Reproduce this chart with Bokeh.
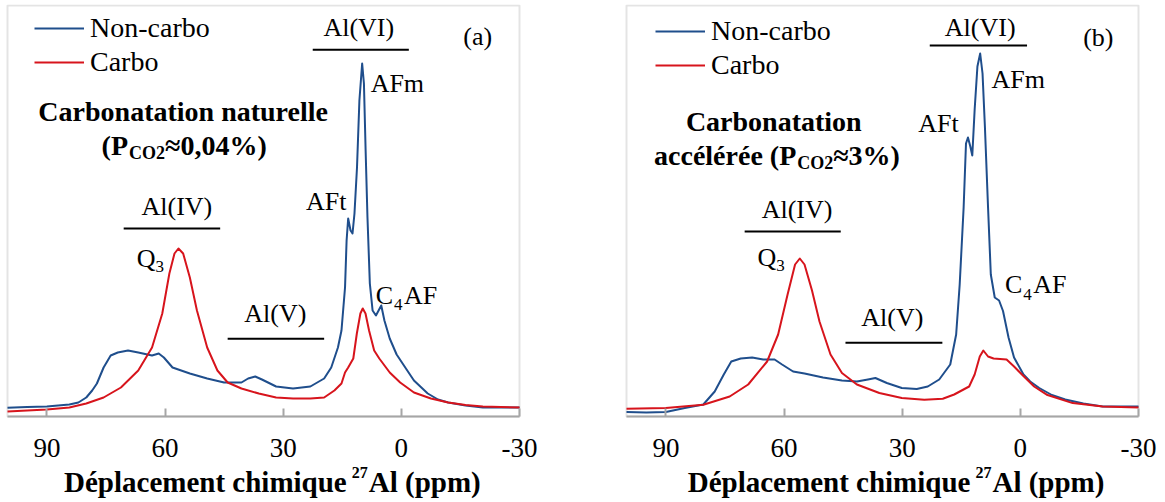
from bokeh.plotting import figure
from bokeh.layouts import row
from bokeh.models import Range1d, FixedTicker, Label, Legend, LegendItem, BoxAnnotation
from bokeh.embed import file_html
from bokeh.resources import INLINE

# ---------------- data ----------------
series_names = ["Non-carbo", "Carbo"]
tick_values = [90, 60, 30, 0, -30]
tick_labels = ["90", "60", "30", "0", "-30"]
x_start, x_end = 100, -30

# panel (a) : natural carbonation
a_non_ppm = [100, 95, 90, 84.3, 82, 80, 78.5, 77.3, 75.6, 73.8, 72, 69.4, 66.8, 63.3, 61.6, 60.3, 58.1, 53.7,
             49.3, 45, 40.6, 38.9, 37.1, 35.4, 31.8, 27.5, 23.1, 19.6, 17.8, 16.1, 15.2, 14.3, 13.9, 13.5,
             12.9, 12.4, 11.9, 11.26, 10.65, 9.95, 9.5, 9.07, 8.6, 8.0, 7.3, 6.45, 5.1, 4.3, 2.95, 1.2,
             -1.5, -3.2, -6.7, -9.3, -11.9, -16.3, -20.7, -30]
a_non_int = [8.7, 9.5, 10, 12, 14, 19, 26, 33, 49, 61, 64, 66, 64, 61, 63, 59, 49, 43,
             38, 34, 34, 38, 40, 37, 30, 28, 30, 38, 49, 69, 86, 129, 176, 198,
             186, 183, 203, 249, 316, 353, 333, 266, 199, 133, 106, 101, 111, 96, 78, 62,
             46, 36, 23, 17, 14, 11, 9, 9]
a_carbo_ppm = [100, 90, 84.3, 80, 75.6, 71.2, 66.8, 63.3, 60.7, 58.9, 57.6, 56.6, 55.4, 53.7, 51.9, 49.3,
               46.7, 44.1, 40.6, 36.2, 31.8, 27.5, 23.1, 19.6, 17, 15.2, 14.3, 13.5, 12.2, 11.3, 10.4, 9.8,
               9.1, 8.2, 6.9, 5.6, 2.95, 0.3, -3.2, -7.5, -11.9, -16.3, -20.7, -30]
a_carbo_int = [5, 7, 9, 13, 19, 29, 46, 69, 103, 143, 163, 168, 163, 139, 106, 69,
               46, 34, 28, 23, 19, 18, 18, 19, 26, 33, 44, 49, 58, 83, 103, 108,
               103, 86, 66, 58, 44, 34, 24, 18, 14, 11.5, 10, 9]

# panel (b) : accelerated carbonation
b_non_ppm = [100, 95, 90, 85.2, 80.5, 77.6, 75.3, 73.4, 71, 68.1, 65.3, 62.4, 60.5, 57.7, 54.8, 50.1, 45.3,
             41.5, 38.7, 36.8, 33.9, 30.1, 26.3, 23.5, 20.6, 17.8, 16.3, 15.4, 14.4, 13.8, 13.3, 12.7, 12.2,
             11.6, 10.9, 10.2, 9.6, 9.0, 8.2, 7.5, 6.5, 5.4, 4.4, 3.0, 1.6, -0.8, -2.5, -4.8, -8, -11.4,
             -16, -20.9, -30]
b_non_int = [4.4, 4, 4.4, 8.4, 12, 25, 42, 55, 58, 59, 57, 57, 52, 45, 43, 39, 36,
             35, 37, 38.5, 33.5, 28.5, 27.5, 30, 37, 52, 82, 132, 209, 273, 279, 270, 261,
             307, 350, 363, 343, 290, 209, 142, 119, 116, 105.5, 79, 59, 42, 35, 28.5, 21.5, 17,
             13, 10, 10]
b_carbo_ppm = [100, 90, 80.5, 73.8, 69.1, 64.3, 61.5, 59.1, 57.2, 56, 54.8, 52.9, 51, 48.2, 45.3, 41.5,
               35.8, 30.1, 24.4, 19.7, 16.8, 13, 11.6, 10.3, 9.4, 8.2, 6.8, 3.5, 1.6, -1.3, -3.5, -6.7,
               -13.3, -20.9, -30]
b_carbo_int = [7.7, 8.4, 11.7, 20, 32, 55, 82, 122, 152, 158, 152, 126, 95, 62, 43.5, 32,
               23.5, 18.4, 16.8, 17.8, 22, 30, 42, 60, 66, 60, 58, 57, 50, 38.5, 30, 21.8,
               13.4, 10, 9]

# ---------------- style / layout ----------------
SERIF = "Liberation Serif"
GRAY = "#a6a6a6"
BLUE = "#1f4e8c"
RED = "#d7141c"
BOX_W = 512                       # width of the boxed plot area in px
PX = BOX_W / (x_start - x_end)    # px per ppm
TOP_VAL = 411                     # top of the boxed plot area (1 unit = 1 px)
Y_MIN, Y_MAX = -86, 412


def add_text(p, x, y, text, size=26, bold=False, align="left", xoff=0):
    p.add_layout(Label(x=x, y=y, x_offset=xoff, text=text, text_font=SERIF,
                       text_font_size=f"{size}px",
                       text_font_style="bold" if bold else "normal",
                       text_align=align, text_baseline="middle", text_color="#000000"))


def make_panel(non_ppm, non_int, carbo_ppm, carbo_int, pad_left, pad_right, legend_loc,
               title_anchor):
    p = figure(frame_width=pad_left + BOX_W + pad_right, frame_height=Y_MAX - Y_MIN,
               min_border_left=0, min_border_right=0, min_border_top=4, min_border_bottom=0,
               x_range=Range1d(x_start + pad_left / PX, x_end - pad_right / PX),
               y_range=Range1d(Y_MIN, Y_MAX),
               y_axis_type=None, toolbar_location=None, output_backend="svg",
               background_fill_color="white", border_fill_color="white")
    p.outline_line_color = None
    p.grid.grid_line_color = None
    p.add_layout(BoxAnnotation(left=x_start, right=x_end, bottom=0, top=TOP_VAL, fill_color=None,
                               line_color=GRAY, line_width=2, level="underlay"))
    ax = p.xaxis[0]
    ax.fixed_location = 0
    ax.bounds = (x_end, x_start)
    ax.ticker = FixedTicker(ticks=tick_values)
    ax.major_label_overrides = {v: s for v, s in zip(tick_values, tick_labels)}
    ax.axis_line_color = GRAY
    ax.axis_line_width = 2
    ax.major_tick_line_color = GRAY
    ax.major_tick_line_width = 2
    ax.major_tick_in = 8
    ax.major_tick_out = 0
    ax.minor_tick_line_color = None
    ax.major_label_text_font = SERIF
    ax.major_label_text_font_size = "27px"
    ax.major_label_text_color = "#000000"
    ax.major_label_standoff = 22

    r1 = p.line(non_ppm, non_int, line_color=BLUE, line_width=2, line_join="round")
    r2 = p.line(carbo_ppm, carbo_int, line_color=RED, line_width=2, line_join="round")
    legend = Legend(items=[LegendItem(label=series_names[0], renderers=[r1]),
                           LegendItem(label=series_names[1], renderers=[r2])],
                    location=legend_loc, orientation="vertical", padding=0, spacing=0,
                    margin=0, glyph_width=50, glyph_height=34, label_height=34,
                    label_standoff=6, label_text_font=SERIF, label_text_font_size="28px",
                    label_text_color="#000000",
                    border_line_alpha=0, background_fill_alpha=0)
    p.add_layout(legend)

    # x-axis title "Déplacement chimique ²⁷Al (ppm)"
    add_text(p, title_anchor, -65, "Déplacement chimique", size=29, bold=True, align="right", xoff=-5)
    add_text(p, title_anchor, -56, "27", size=16, bold=True, align="left")
    add_text(p, title_anchor, -65, "Al (ppm)", size=29, bold=True, align="left", xoff=17)
    return p


# ---------------- panel (a) ----------------
# legend location is measured in px from the bottom-left corner of the frame
pa = make_panel(a_non_ppm, a_non_int, a_carbo_ppm, a_carbo_int, 7, 48, (7 + 27, 337 + 86), 12.6)
pa.segment(x0=[22.5, 70.5, 44.1], y0=[366.7, 188, 77.7], x1=[-1.9, 46, 19.6], y1=[366.7, 188, 77.7],
           line_color="black", line_width=2)
add_text(pa, 10.8, 389, "Al(VI)", align="center")
add_text(pa, -19.4, 380, "(a)", align="center")
add_text(pa, 7.8, 333.5, "AFm")
add_text(pa, 19.1, 215, "AFt", align="center")
add_text(pa, 57, 210.5, "Al(IV)", align="center")
add_text(pa, 32, 103.5, "Al(V)", align="center")
add_text(pa, 62.4, 158.5, "Q", align="right")
add_text(pa, 62.4, 150, "3", size=17)
add_text(pa, 2.1, 121, "C", align="right")
add_text(pa, 2.1, 112, "4", size=17, xoff=1)
add_text(pa, 2.1, 121, "AF", xoff=11)
add_text(pa, 55.4, 305, "Carbonatation naturelle", size=28, bold=True, align="center")
add_text(pa, 69.4, 271, "(P", size=28, bold=True, align="right")
add_text(pa, 69.4, 264, "CO2", size=18, bold=True, xoff=1)
add_text(pa, 69.4, 271, "≈0,04%)", size=28, bold=True, xoff=37)

# ---------------- panel (b) ----------------
pb = make_panel(b_non_ppm, b_non_int, b_carbo_ppm, b_carbo_int, 59, 22, (59 + 29, 334 + 86), 11.4)
pb.segment(x0=[23.0, 70.0, 44.4], y0=[371, 185, 73.7], x1=[-1.7, 45.6, 19.8], y1=[371, 185, 73.7],
           line_color="black", line_width=2)
add_text(pb, 10.2, 389.5, "Al(VI)", align="center")
add_text(pb, -19.8, 379.5, "(b)", align="center")
add_text(pb, 7.3, 337.5, "AFm")
add_text(pb, 20.8, 293, "AFt", align="center")
add_text(pb, 56.7, 207, "Al(IV)", align="center")
add_text(pb, 32.5, 99.5, "Al(V)", align="center")
add_text(pb, 62.0, 159.5, "Q", align="right")
add_text(pb, 62.0, 151, "3", size=17)
add_text(pb, -0.5, 132.5, "C", align="right")
add_text(pb, -0.5, 122.5, "4", size=17, xoff=1)
add_text(pb, -0.5, 132.5, "AF", xoff=11)
add_text(pb, 62.6, 294.8, "Carbonatation", size=28, bold=True, align="center")
add_text(pb, 56.9, 260.6, "accélérée (P", size=28, bold=True, align="right")
add_text(pb, 56.9, 253.6, "CO2", size=18, bold=True, xoff=1)
add_text(pb, 56.9, 260.6, "≈3%)", size=28, bold=True, xoff=37)

layout = row(pa, pb)
open("out.html", "w").write(file_html(layout, INLINE))
